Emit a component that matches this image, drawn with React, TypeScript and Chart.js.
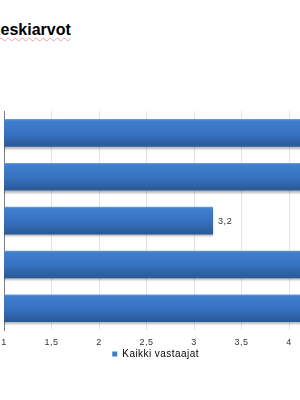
import React, { useEffect, useRef } from "react";
import { Chart, registerables } from "chart.js";

Chart.register(...registerables);

const titleText = "Keskiarvot";
const seriesName = "Kaikki vastaajat";
const categories = ["Kysymys 1", "Kysymys 2", "Kysymys 3", "Kysymys 4", "Kysymys 5"];
const values = [4.4, 4.3, 3.2, 4.5, 4.4];
const xMin = 1;
const xMax = 5;
const xStep = 0.5;

const FONT = "'Liberation Sans', Arial, sans-serif";
const fmt = (v: number) => String(v).replace(".", ",");

const spacingPlugin = {
  id: "letterSpacing",
  beforeDraw(chart: any) {
    (chart.ctx as any).letterSpacing = "0.45px";
  },
  afterDraw(chart: any) {
    (chart.ctx as any).letterSpacing = "0px";
  },
};

const shadowPlugin = {
  id: "barShadow",
  beforeDatasetsDraw(chart: any) {
    const ctx = chart.ctx;
    ctx.save();
    ctx.shadowColor = "rgba(0,0,0,0.28)";
    ctx.shadowBlur = 2;
    ctx.shadowOffsetY = 2;
    ctx.shadowOffsetX = 0;
  },
  afterDatasetsDraw(chart: any) {
    chart.ctx.restore();
  },
};

const labelPlugin = {
  id: "valueLabels",
  afterDraw(chart: any) {
    const ctx = chart.ctx;
    const meta = chart.getDatasetMeta(0);
    ctx.save();
    (ctx as any).letterSpacing = "0.6px";
    ctx.font = `9px ${FONT}`;
    ctx.fillStyle = "#333333";
    ctx.textBaseline = "middle";
    ctx.textAlign = "left";
    meta.data.forEach((bar: any, i: number) => {
      ctx.fillText(fmt(values[i]), bar.x + 5, bar.y + 1);
    });
    ctx.restore();
  },
};

export default function App() {
  const ref = useRef<HTMLCanvasElement | null>(null);

  useEffect(() => {
    if (!ref.current) return;
    const chart = new Chart(ref.current, {
      type: "bar",
      data: {
        labels: categories,
        datasets: [
          {
            label: seriesName,
            data: values,
            categoryPercentage: 0.9,
            barPercentage: 0.7,
            borderWidth: 0,
            backgroundColor: (c: any) => {
              const ch = c.chart;
              const ys = ch.scales && ch.scales.y;
              if (!ch.chartArea || !ys || c.dataIndex === undefined) return "#3a78c4";
              const y = ys.getPixelForValue(c.dataIndex);
              const h = (ys.height / categories.length) * 0.63;
              const g = ch.ctx.createLinearGradient(0, y - h / 2, 0, y + h / 2);
              g.addColorStop(0, "#6a9edb");
              g.addColorStop(0.07, "#3f7fcd");
              g.addColorStop(0.5, "#3773c2");
              g.addColorStop(1, "#2a5896");
              return g;
            },
          },
        ],
      },
      options: {
        indexAxis: "y",
        animation: false,
        responsive: false,
        maintainAspectRatio: false,
        layout: { padding: { top: 111, left: 20, right: 20, bottom: 31 } },
        scales: {
          x: {
            min: xMin,
            max: xMax,
            afterFit: (s: any) => {
              s.height = s.height - 6;
            },
            ticks: {
              stepSize: xStep,
              padding: 7,
              color: "#333333",
              font: { family: FONT, size: 9 },
              callback: (v: any) => fmt(Number(v)),
            },
            grid: { color: "#dde5ef", drawTicks: false, lineWidth: 1 },
            border: { display: false },
          },
          y: {
            afterFit: (s: any) => {
              s.width = 84;
            },
            ticks: { display: false },
            grid: { display: false, drawTicks: false },
            border: { display: true, color: "#7f7f7f", width: 1 },
          },
        },
        plugins: {
          legend: {
            position: "bottom",
            labels: {
              boxWidth: 5,
              boxHeight: 5,
              padding: 0,
              color: "#333333",
              font: { family: FONT, size: 10 },
              generateLabels: () => [
                {
                  text: seriesName,
                  fillStyle: "#3c7cc8",
                  strokeStyle: "#3c7cc8",
                  lineWidth: 0,
                  hidden: false,
                  datasetIndex: 0,
                } as any,
              ],
            },
          },
          tooltip: { enabled: false },
          title: { display: false },
        },
      },
      plugins: [spacingPlugin, shadowPlugin, labelPlugin],
    } as any);
    return () => chart.destroy();
  }, []);

  return (
    <div
      style={{
        position: "fixed",
        left: 0,
        top: 0,
        width: 300,
        height: 400,
        overflow: "hidden",
        background: "#ffffff",
      }}
    >
      <div
        style={{
          position: "absolute",
          left: -11,
          top: 22,
          fontFamily: FONT,
          fontWeight: "bold",
          fontSize: 16,
          lineHeight: "16px",
          whiteSpace: "nowrap",
          color: "#000000",
          textDecorationLine: "underline",
          textDecorationStyle: "wavy",
          textDecorationColor: "#f4a0a0",
          textDecorationThickness: "1px",
          textUnderlineOffset: "2px",
        }}
      >
        {titleText}
      </div>
      <canvas
        ref={ref}
        width={504}
        height={400}
        style={{ position: "absolute", left: -100, top: 0, width: 504, height: 400 }}
      />
    </div>
  );
}
